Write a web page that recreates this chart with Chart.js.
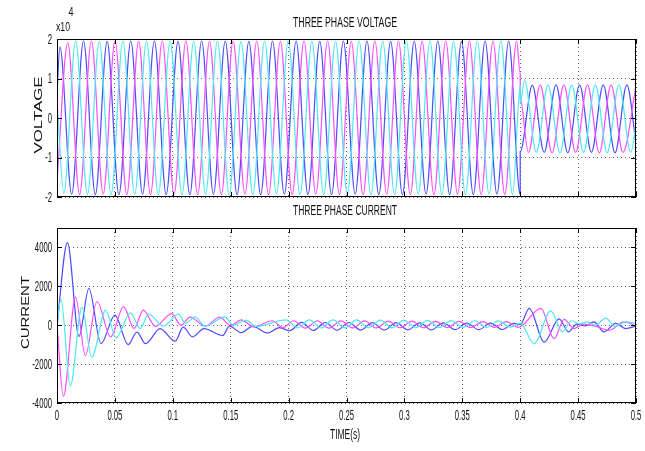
<!DOCTYPE html>
<html>
<head>
<meta charset="utf-8">
<script src="https://cdn.jsdelivr.net/npm/chart.js@4.4.0/dist/chart.umd.min.js"></script>
<style>
  body { margin: 0; background: #fff; }
  #wrap { position: relative; width: 645px; height: 451px; }
  canvas { position: absolute; left: 0; }
  #volt { top: 0; }
  #curr { top: 205px; }
</style>
</head>
<body>
<div id="wrap">
  <canvas id="volt" width="645" height="205"></canvas>
  <canvas id="curr" width="645" height="246"></canvas>
</div>
<script>
// ticks
const timeTicks = [0, 0.05, 0.1, 0.15, 0.2, 0.25, 0.3, 0.35, 0.4, 0.45, 0.5];
const timeLabels = ['0', '0.05', '0.1', '0.15', '0.2', '0.25', '0.3', '0.35', '0.4', '0.45', '0.5'];
const voltTicks = [-2, -1, 0, 1, 2];
const currTicks = [-4000, -2000, 0, 2000, 4000];

// voltage (x10^4), turning points [t, v], fault at t = 0.4
const vBlue = [[0,0.6],[0.0025,1.8],[0.0127,-1.93],[0.0229,1.95],[0.0331,-1.94],[0.0433,1.94],[0.0535,-1.94],[0.0637,1.95],[0.0739,-1.93],[0.0841,1.95],[0.0943,-1.94],[0.1045,1.94],[0.1147,-1.94],[0.1249,1.95],[0.1351,-1.93],[0.1453,1.95],[0.1555,-1.94],[0.1657,1.94],[0.1759,-1.94],[0.1861,1.95],[0.1963,-1.93],[0.2065,1.95],[0.2167,-1.94],[0.2269,1.94],[0.2371,-1.94],[0.2473,1.95],[0.2575,-1.93],[0.2677,1.95],[0.2779,-1.94],[0.2881,1.94],[0.2983,-1.94],[0.3085,1.95],[0.3187,-1.93],[0.3289,1.95],[0.3391,-1.94],[0.3493,1.94],[0.3595,-1.94],[0.3697,1.95],[0.3799,-1.93],[0.3901,1.95],[0.4,-1.94],[0.4,-0.85],[0.4105,0.83],[0.4207,-0.87],[0.4309,0.84],[0.4411,-0.88],[0.4513,0.84],[0.4615,-0.87],[0.4717,0.84],[0.4819,-0.88],[0.4921,0.84],[0.5,-0.64]];
const vMagenta = [[0,-1.6],[0.0093,1.9],[0.0195,-1.94],[0.0297,1.95],[0.0399,-1.93],[0.0501,1.95],[0.0603,-1.94],[0.0705,1.94],[0.0807,-1.94],[0.0909,1.95],[0.1011,-1.93],[0.1113,1.95],[0.1215,-1.94],[0.1317,1.94],[0.1419,-1.94],[0.1521,1.95],[0.1623,-1.93],[0.1725,1.95],[0.1827,-1.94],[0.1929,1.94],[0.2031,-1.94],[0.2133,1.95],[0.2235,-1.93],[0.2337,1.95],[0.2439,-1.94],[0.2541,1.94],[0.2643,-1.94],[0.2745,1.95],[0.2847,-1.93],[0.2949,1.95],[0.3051,-1.94],[0.3153,1.94],[0.3255,-1.94],[0.3357,1.95],[0.3459,-1.93],[0.3561,1.95],[0.3663,-1.94],[0.3765,1.94],[0.3867,-1.94],[0.3969,1.95],[0.4,1.13],[0.4,0.49],[0.4071,-0.87],[0.4173,0.84],[0.4275,-0.88],[0.4377,0.84],[0.4479,-0.87],[0.4581,0.84],[0.4683,-0.88],[0.4785,0.84],[0.4887,-0.87],[0.5,0.8]];
const vCyan = [[0,0.45],[0.0059,-1.9],[0.0161,1.95],[0.0263,-1.94],[0.0365,1.94],[0.0467,-1.94],[0.0569,1.95],[0.0671,-1.93],[0.0773,1.95],[0.0875,-1.94],[0.0977,1.94],[0.1079,-1.94],[0.1181,1.95],[0.1283,-1.93],[0.1385,1.95],[0.1487,-1.94],[0.1589,1.94],[0.1691,-1.94],[0.1793,1.95],[0.1895,-1.93],[0.1997,1.95],[0.2099,-1.94],[0.2201,1.94],[0.2303,-1.94],[0.2405,1.95],[0.2507,-1.93],[0.2609,1.95],[0.2711,-1.94],[0.2813,1.94],[0.2915,-1.94],[0.3017,1.95],[0.3119,-1.93],[0.3221,1.95],[0.3323,-1.94],[0.3425,1.94],[0.3527,-1.94],[0.3629,1.95],[0.3731,-1.93],[0.3833,1.95],[0.3935,-1.94],[0.4,0.81],[0.4,0.36],[0.4037,0.95],[0.4139,-0.87],[0.4241,0.84],[0.4343,-0.88],[0.4445,0.84],[0.4547,-0.87],[0.4649,0.84],[0.4751,-0.88],[0.4853,0.84],[0.4955,-0.87],[0.5,-0.16]];

// current, turning points [t, i]
const iBlue = [[0,0],[0.009,4250],[0.019,-580],[0.0275,1900],[0.038,-950],[0.05,520],[0.0615,-1000],[0.069,-350],[0.0765,-950],[0.089,-170],[0.102,-820],[0.109,-100],[0.117,-600],[0.127,-170],[0.143,-530],[0.149,-50],[0.159,-380],[0.169,-60],[0.182,-400],[0.192,-120],[0.201,-280],[0.2112,150],[0.2214,-270],[0.2316,140],[0.2418,-260],[0.252,140],[0.2622,-250],[0.2724,130],[0.2826,-250],[0.2928,130],[0.303,-240],[0.3132,120],[0.3234,-240],[0.3336,120],[0.3438,-230],[0.354,110],[0.3642,-230],[0.3744,110],[0.3846,-220],[0.3948,100],[0.4,30],[0.4078,870],[0.4207,-870],[0.4336,330],[0.4417,-340],[0.449,60],[0.456,-40],[0.4638,170],[0.4724,-340],[0.4825,90],[0.491,-170],[0.5,-50]];
const iMagenta = [[0,0],[0.0055,-3650],[0.016,1440],[0.0245,-1560],[0.0345,1220],[0.0463,-600],[0.0575,960],[0.0665,-170],[0.0745,780],[0.085,-60],[0.099,600],[0.107,0],[0.115,420],[0.128,-50],[0.1405,420],[0.15,-20],[0.159,280],[0.17,-80],[0.186,230],[0.195,-130],[0.2044,230],[0.2146,-150],[0.2248,230],[0.235,-150],[0.2452,220],[0.2554,-140],[0.2656,220],[0.2758,-140],[0.286,210],[0.2962,-130],[0.3064,210],[0.3166,-130],[0.3268,200],[0.337,-120],[0.3472,200],[0.3574,-120],[0.3676,190],[0.3778,-110],[0.388,190],[0.3982,-110],[0.4178,870],[0.4293,-690],[0.4379,300],[0.4466,-170],[0.455,60],[0.465,-50],[0.4767,-260],[0.4897,170],[0.5,-30]];
const iCyan = [[0,0],[0.0034,1340],[0.0115,-3130],[0.0215,930],[0.03,-1650],[0.042,780],[0.051,-650],[0.0634,640],[0.072,-170],[0.079,570],[0.092,-50],[0.105,570],[0.111,100],[0.119,430],[0.128,-50],[0.145,430],[0.152,0],[0.163,260],[0.172,-60],[0.1976,280],[0.2078,-140],[0.218,280],[0.2282,-140],[0.2384,270],[0.2486,-140],[0.2588,270],[0.269,-130],[0.2792,260],[0.2894,-130],[0.2996,260],[0.3098,-120],[0.32,250],[0.3302,-120],[0.3404,240],[0.3506,-110],[0.3608,230],[0.371,-110],[0.3812,220],[0.3914,-100],[0.4,90],[0.412,-950],[0.4264,740],[0.4365,-340],[0.4442,230],[0.451,70],[0.458,170],[0.465,0],[0.4739,370],[0.482,-60],[0.4911,170],[0.5,80]];

const BLUE = '#4b4bff', MAGENTA = '#ff4cff', CYAN = '#4ce8f0';
const FONT = '"Liberation Sans", Arial, sans-serif';

// matlab figure text looks squashed sideways, so draw it scaled
function squeeze(ctx, text, x, y, size, opts = {}) {
  ctx.save();
  ctx.font = `${size}px ${FONT}`;
  ctx.fillStyle = '#111';
  ctx.textBaseline = 'middle';
  ctx.textAlign = opts.align || 'center';
  ctx.translate(x, y);
  if (opts.rotate) ctx.rotate(-Math.PI / 2);
  const k = opts.width ? opts.width / ctx.measureText(text).width : opts.k;
  ctx.scale(k, 1);
  ctx.fillText(text, 0, 0);
  ctx.restore();
}

function line(pts, color) {
  return {
    data: pts.map(([x, y]) => ({ x, y })),
    borderColor: color,
    borderWidth: 1.2,
    pointRadius: 0,
    cubicInterpolationMode: 'monotone',
    fill: false,
  };
}

function frame(cfg) {
  return {
    id: 'frame',
    afterDraw(chart) {
      const { ctx, chartArea: a, scales: { x, y } } = chart;
      ctx.save();
      ctx.strokeStyle = '#000';
      ctx.lineWidth = 1;
      ctx.strokeRect(a.left + 0.5, a.top + 0.5, a.width - 1, a.height - 1);
      ctx.beginPath();
      timeTicks.forEach(v => {
        const px = Math.round(x.getPixelForValue(v)) + 0.5;
        ctx.moveTo(px, a.bottom); ctx.lineTo(px, a.bottom - 5);
        ctx.moveTo(px, a.top); ctx.lineTo(px, a.top + 5);
      });
      cfg.yTicks.forEach(v => {
        const py = Math.round(y.getPixelForValue(v)) + 0.5;
        ctx.moveTo(a.left, py); ctx.lineTo(a.left + 5, py);
        ctx.moveTo(a.right, py); ctx.lineTo(a.right - 5, py);
      });
      ctx.stroke();
      ctx.restore();

      cfg.yTicks.forEach((v, i) => {
        squeeze(ctx, cfg.yLabels[i], a.left - 5, y.getPixelForValue(v) + 1, 14, { align: 'right', k: 0.55 });
      });
      if (cfg.xLabels) {
        timeTicks.forEach((v, i) => {
          squeeze(ctx, cfg.xLabels[i], x.getPixelForValue(v), a.bottom + 13, 14, { k: 0.55 });
        });
        squeeze(ctx, cfg.xTitle, 345, a.bottom + 32, 14, { width: 30 });
      }
      squeeze(ctx, cfg.title, 345, cfg.titleY, 15, { width: 104 });
      squeeze(ctx, cfg.yTitle, cfg.yTitleX, (a.top + a.bottom) / 2 - 3, 11, { rotate: true, width: cfg.yTitleW });
      if (cfg.exp) {
        squeeze(ctx, 'x10', 63, 28, 12, { width: 14 });
        squeeze(ctx, '4', 71, 13, 12, { width: 5 });
      }
    },
  };
}

function makeChart(id, datasets, yMin, yMax, yTicks, pad, xHeight, cfg) {
  return new Chart(document.getElementById(id), {
    type: 'line',
    data: { datasets },
    options: {
      responsive: false,
      animation: false,
      events: [],
      layout: { padding: { top: pad, right: 9, left: 0, bottom: 0 } },
      plugins: { legend: { display: false }, tooltip: { enabled: false } },
      scales: {
        x: {
          type: 'linear', min: 0, max: 0.5,
          afterBuildTicks: s => { s.ticks = timeTicks.map(value => ({ value })); },
          afterFit: s => { s.height = xHeight; },
          ticks: { display: false },
          grid: { color: 'rgba(0,0,0,0.6)', lineWidth: 1, drawTicks: false },
          border: { display: false, dash: [1, 3] },
        },
        y: {
          type: 'linear', min: yMin, max: yMax,
          afterBuildTicks: s => { s.ticks = yTicks.map(value => ({ value })); },
          afterFit: s => { s.width = 57; },
          ticks: { display: false },
          grid: { color: 'rgba(0,0,0,0.6)', lineWidth: 1, drawTicks: false },
          border: { display: false, dash: [1, 3] },
        },
      },
    },
    plugins: [frame({ yTicks, ...cfg })],
  });
}

makeChart('volt', [line(vCyan, CYAN), line(vMagenta, MAGENTA), line(vBlue, BLUE)], -2, 2, voltTicks, 39, 8, {
  yLabels: voltTicks.map(String),
  title: 'THREE PHASE VOLTAGE', titleY: 23,
  yTitle: 'VOLTAGE', yTitleX: 39, yTitleW: 77,
  exp: true,
});

makeChart('curr', [line(iCyan, CYAN), line(iMagenta, MAGENTA), line(iBlue, BLUE)], -4000, 5000, currTicks, 23, 48, {
  yLabels: currTicks.map(String),
  xLabels: timeLabels, xTitle: 'TIME(s)',
  title: 'THREE PHASE CURRENT', titleY: 6,
  yTitle: 'CURRENT', yTitleX: 25.5, yTitleW: 73,
});
</script>
</body>
</html>
